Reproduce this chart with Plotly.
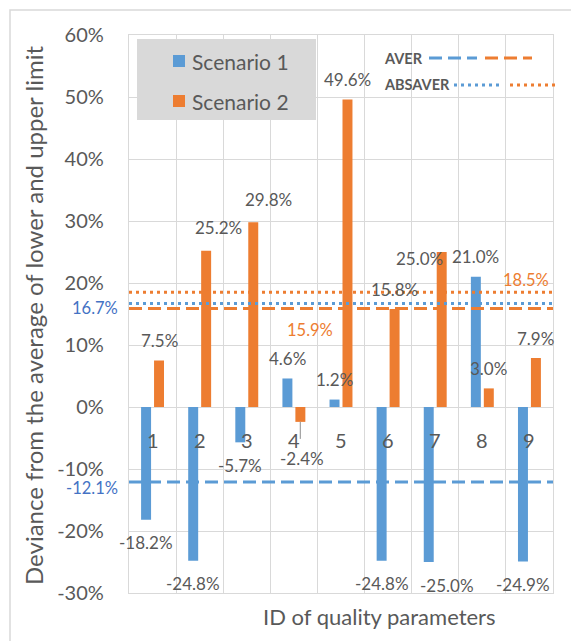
import plotly.graph_objects as go

# Quality parameter IDs and deviations (%) from the mid-point of the limits
param_ids = [1, 2, 3, 4, 5, 6, 7, 8, 9]
scenario_1 = [-18.2, -24.8, -5.7, 4.6, 1.2, -24.8, -25.0, 21.0, -24.9]
scenario_2 = [7.5, 25.2, 29.8, -2.4, 49.6, 15.8, 25.0, 3.0, 7.9]

# Averages of the signed (AVER) and absolute (ABSAVER) deviations
aver = {"Scenario 1": -12.1, "Scenario 2": 15.9}
absaver = {"Scenario 1": 16.7, "Scenario 2": 18.5}

y_ticks = [-30, -20, -10, 0, 10, 20, 30, 40, 50, 60]
y_tick_text = [f"{v}%" for v in y_ticks]

BLUE = "#5B9BD5"
ORANGE = "#ED7D31"
LABEL_BLUE = "#4472C4"
GREY = "#595959"
GRID = "#D9D9D9"
FONT = "Lato"

# Figure geometry (pixels)
W, H = 571, 641
L, R, T, B = 129, 18, 35, 48
PW, PH = W - L - R, H - T - B


def px(x):
    return (x - L) / PW


def py(y):
    return (H - B - y) / PH


BAR_OFF = 0.1375  # half distance between paired bar centres (category units)

# hand nudges (dx, dy in px) for data labels that sit off their default spot
nudge_1 = [(0, 0), (0, 0), (0, 0), (0, 0), (0, 0), (0, 0), (18, 0), (0, 0), (0, 0)]
nudge_2 = [(0, 0), (12, 3), (15, 3), (2, -14), (0, 0), (0, 0), (-22, -26), (0, 0), (0, 0)]

fig = go.Figure()
fig.add_trace(go.Bar(x=param_ids, y=scenario_1, name="Scenario 1",
                     marker=dict(color=BLUE, line=dict(width=0))))
fig.add_trace(go.Bar(x=param_ids, y=scenario_2, name="Scenario 2",
                     marker=dict(color=ORANGE, line=dict(width=0))))

shapes = []
annotations = []


def note(**kw):
    kw.setdefault("showarrow", False)
    kw.setdefault("xanchor", "center")
    kw.setdefault("yanchor", "middle")
    annotations.append(kw)


# average lines across the whole plot
line_styles = [
    (aver["Scenario 1"], BLUE, "13px,6px"),
    (aver["Scenario 2"], ORANGE, "13px,6px"),
    (absaver["Scenario 1"], BLUE, "3px,4px"),
    (absaver["Scenario 2"], ORANGE, "3px,4px"),
]
for val, col, dash in line_styles:
    shapes.append(dict(type="line", xref="x", yref="y", x0=0.5, x1=9.5, y0=val, y1=val,
                       line=dict(color=col, width=3, dash=dash), layer="above"))

# value labels for the average lines
note(x=px(120), xref="paper", y=aver["Scenario 1"], yref="y", xanchor="right", yshift=-6,
     text=f"{aver['Scenario 1']:.1f}%", font=dict(family=FONT, size=16.5, color=LABEL_BLUE))
note(x=px(120), xref="paper", y=absaver["Scenario 1"], yref="y", xanchor="right", yshift=-5,
     text=f"{absaver['Scenario 1']:.1f}%", font=dict(family=FONT, size=16.5, color=LABEL_BLUE))
note(x=px(310), xref="paper", y=aver["Scenario 2"], yref="y", yshift=-22,
     text=f"{aver['Scenario 2']:.1f}%", font=dict(family=FONT, size=16.5, color=ORANGE))
note(x=px(526), xref="paper", y=absaver["Scenario 2"], yref="y", yshift=12,
     text=f"{absaver['Scenario 2']:.1f}%", font=dict(family=FONT, size=16.5, color=ORANGE))

# data labels
for series, sign, nudges in ((scenario_1, -1, nudge_1), (scenario_2, 1, nudge_2)):
    for cid, v, (dx, dy) in zip(param_ids, series, nudges):
        base = 20 if v >= 0 else -23
        note(x=cid + sign * BAR_OFF, y=v, xref="x", yref="y",
             text=f"{v:.1f}%", xshift=dx, yshift=base + dy,
             font=dict(family=FONT, size=17, color=GREY))

# leader line for the displaced -2.4% label
shapes.append(dict(type="line", xref="x", yref="y", ysizemode="pixel",
                   yanchor=scenario_2[3], x0=4 + BAR_OFF, x1=4 + BAR_OFF, y0=0, y1=-17,
                   line=dict(color="#A6A6A6", width=1.3)))

# category labels next to the zero line
for cid in param_ids:
    note(x=cid, y=0, xref="x", yref="y", yshift=-33, text=str(cid),
         font=dict(family=FONT, size=20, color=GREY))

# scenario legend (grey box)
shapes.append(dict(type="rect", xref="paper", yref="paper", x0=px(137), x1=px(316),
                   y0=py(120), y1=py(39), fillcolor="#D9D9D9", line=dict(width=0),
                   layer="above"))
for name, col, yc in (("Scenario 1", BLUE, 61), ("Scenario 2", ORANGE, 101)):
    shapes.append(dict(type="rect", xref="paper", yref="paper", x0=px(173), x1=px(185),
                       y0=py(yc + 6), y1=py(yc - 6), fillcolor=col, line=dict(width=0),
                       layer="above"))
    note(x=px(190), y=py(yc), xref="paper", yref="paper", xanchor="left", text=name,
         font=dict(family=FONT, size=21, color=GREY))

# AVER / ABSAVER legend
for name, yc, dash, segs in (
        ("AVER", 58, "13px,6px", [(429, 477, BLUE), (485, 532, ORANGE)]),
        ("ABSAVER", 85, "3px,4px", [(454, 500, BLUE), (510, 557, ORANGE)])):
    note(x=px(382), y=py(yc), xref="paper", yref="paper", xanchor="left",
         text=f"<b>{name}</b>", font=dict(family=FONT, size=14.5, color=GREY))
    for x0, x1, col in segs:
        shapes.append(dict(type="line", xref="paper", yref="paper", x0=px(x0), x1=px(x1),
                           y0=py(yc), y1=py(yc), line=dict(color=col, width=3, dash=dash)))

# axis titles
note(x=px(34), y=py(316), xref="paper", yref="paper", textangle=-90,
     text="Deviance from the average of lower and upper limit",
     font=dict(family=FONT, size=24, color=GREY))
note(x=px(379), y=py(616), xref="paper", yref="paper",
     text="ID of quality parameters", font=dict(family=FONT, size=22, color=GREY))

# outer chart frame
shapes.append(dict(type="rect", xref="paper", yref="paper", x0=px(10), x1=px(590),
                   y0=py(660), y1=py(10), line=dict(color=GRID, width=1.5),
                   fillcolor="rgba(0,0,0,0)", layer="below"))

fig.update_layout(
    width=W, height=H,
    margin=dict(l=L, r=R, t=T, b=B, pad=0),
    paper_bgcolor="white", plot_bgcolor="white",
    barmode="group", bargap=0.45, bargroupgap=0.23,
    showlegend=False,
    font=dict(family=FONT, color=GREY),
    shapes=shapes, annotations=annotations,
    xaxis=dict(range=[0.5, 9.5], tickvals=[i + 0.5 for i in range(0, 10)],
               showticklabels=False, showgrid=True, gridcolor=GRID, gridwidth=1.3,
               zeroline=False, showline=True, mirror=True, linecolor=GRID, linewidth=1.3,
               fixedrange=True),
    yaxis=dict(range=[-30, 60], tickmode="array", tickvals=y_ticks, ticktext=y_tick_text,
               tickfont=dict(family=FONT, size=20, color=GREY),
               showgrid=True, gridcolor=GRID, gridwidth=1.3,
               zeroline=True, zerolinecolor=GRID, zerolinewidth=1.3,
               showline=True, mirror=True, linecolor=GRID, linewidth=1.3,
               ticks="outside", ticklen=20, tickcolor="rgba(0,0,0,0)",
               fixedrange=True),
)

fig.write_html("out.html")
